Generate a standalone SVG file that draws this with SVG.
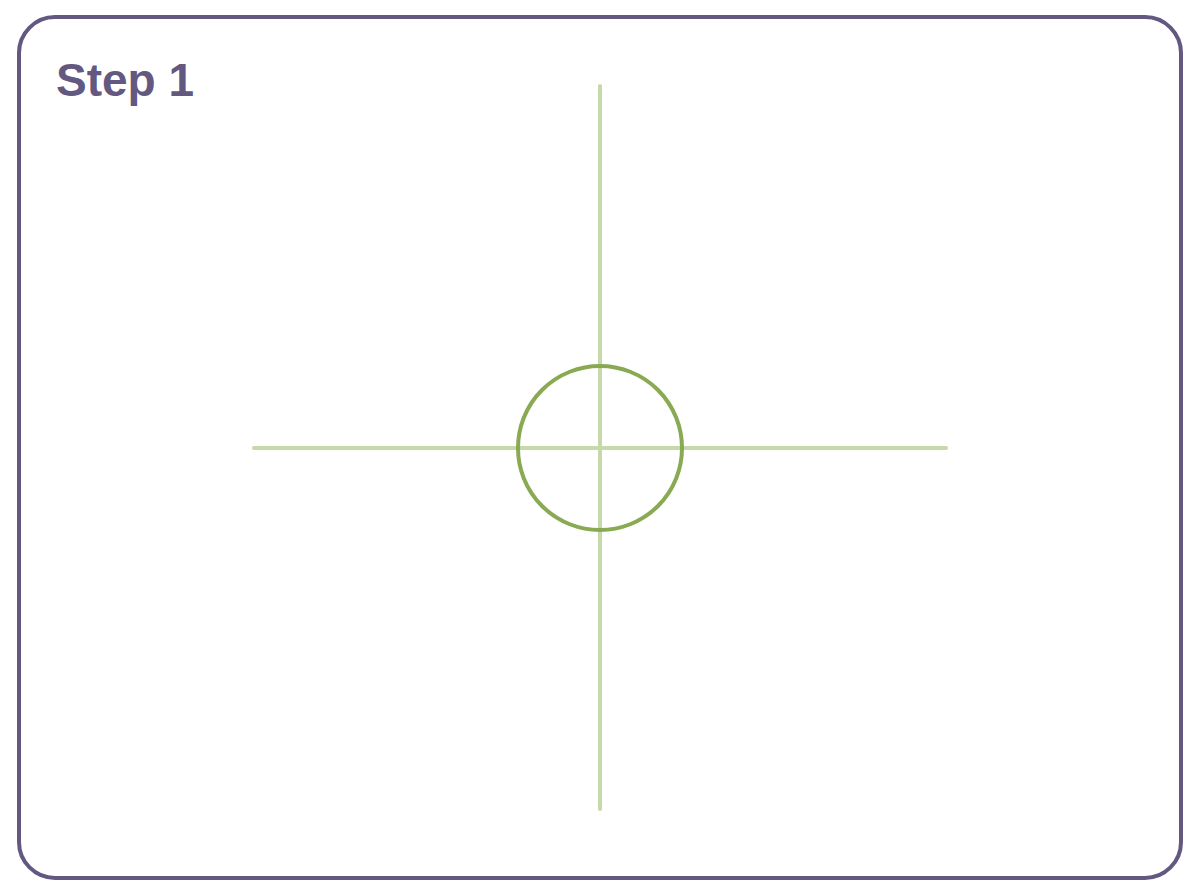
<svg xmlns="http://www.w3.org/2000/svg" width="1200" height="896" viewBox="0 0 1200 896">
<style>
.axis{stroke:#c6d9aa;stroke-width:4;stroke-linecap:round;fill:none}
.title{font-family:"Liberation Sans",Arial,sans-serif;font-weight:bold;font-size:46px;fill:#625880}
</style>
<rect width="1200" height="896" fill="#ffffff"/>
<g id="frame">
<rect x="19" y="17" width="1162" height="861" rx="36" ry="36" fill="#ffffff" stroke="#625880" stroke-width="4"/>
<text class="title" x="56" y="96">Step 1</text>
</g>
<g id="connectors">
<line class="axis" x1="600" y1="86" x2="600" y2="809"/>
<line class="axis" x1="254" y1="448" x2="946" y2="448"/>
</g>
<g id="circle">
<circle cx="600" cy="448" r="82" fill="none" stroke="#89aa53" stroke-width="4"/>
</g>
</svg>
